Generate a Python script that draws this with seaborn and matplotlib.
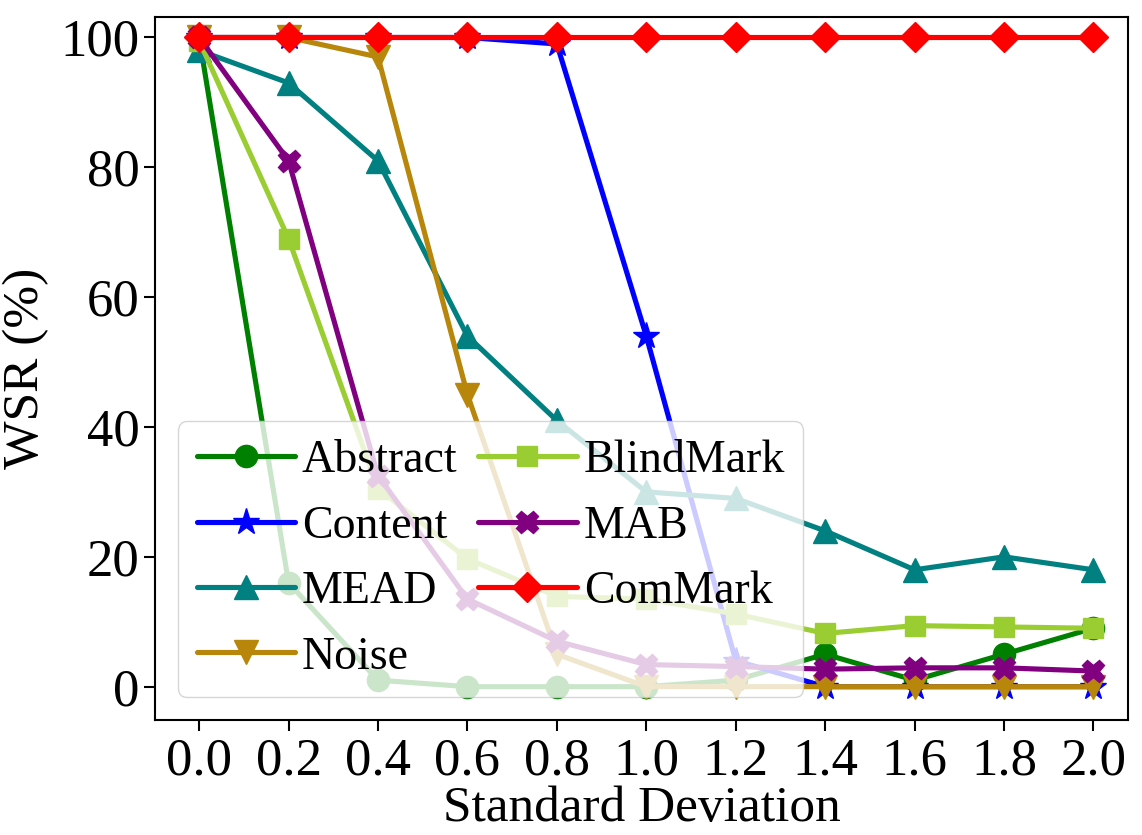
import matplotlib
matplotlib.use("Agg")
import matplotlib.pyplot as plt
import seaborn as sns
import pandas as pd

std_dev = [0.0, 0.2, 0.4, 0.6, 0.8, 1.0, 1.2, 1.4, 1.6, 1.8, 2.0]

abstract = [100, 16, 1, 0, 0, 0, 1, 5, 1, 5, 9]
content = [100, 100, 100, 100, 99, 54, 4, 0, 0, 0, 0]
mead = [98, 93, 81, 54, 41, 30, 29, 24, 18, 20, 18]
noise = [100, 100, 97, 45, 5, 0, 0, 0, 0, 0, 0]
blindmark = [99.5, 69, 30.5, 19.7, 13.9, 13.5, 11.2, 8.2, 9.4, 9.2, 9.0]
mab = [100, 81, 32.5, 13.5, 7, 3.4, 3.1, 2.7, 2.9, 2.9, 2.4]
commark = [100, 100, 100, 100, 100, 100, 100, 100, 100, 100, 100]

methods = ["Abstract", "Content", "MEAD", "Noise", "BlindMark", "MAB", "ComMark"]
series = [abstract, content, mead, noise, blindmark, mab, commark]
colors = ["green", "blue", "teal", "darkgoldenrod", "yellowgreen", "purple", "red"]
markers = ["o", "*", "^", "v", "s", "X", "D"]
msizes = [16, 20, 17, 17, 15, 16, 15]

x_ticks = [0.0, 0.2, 0.4, 0.6, 0.8, 1.0, 1.2, 1.4, 1.6, 1.8, 2.0]
y_ticks = [0, 20, 40, 60, 80, 100]

sns.set_style("ticks")
plt.rcParams["font.family"] = ["Liberation Serif", "DejaVu Serif"]
plt.rcParams["text.color"] = "black"
plt.rcParams["axes.labelcolor"] = "black"
plt.rcParams["xtick.color"] = "black"
plt.rcParams["ytick.color"] = "black"

fig, ax = plt.subplots(figsize=(11.42, 8.35), dpi=100)
fig.subplots_adjust(left=0.136, right=0.988, top=0.980, bottom=0.138)

for name, vals, c, m, ms in zip(methods, series, colors, markers, msizes):
    df = pd.DataFrame({"x": std_dev, "y": vals})
    sns.lineplot(data=df, x="x", y="y", ax=ax, color=c, marker=m,
                 markersize=ms, linewidth=3.7, markeredgecolor=c,
                 markeredgewidth=1, label=name)

ax.set_xticks(x_ticks)
ax.set_xticklabels([f"{v:.1f}" for v in x_ticks])
ax.set_yticks(y_ticks)
ax.set_xlim(-0.098, 2.078)
ax.set_ylim(-5.1, 103.2)
ax.tick_params(axis="both", labelsize=38, length=8, width=1.5, direction="out",
               colors="black")
ax.tick_params(axis="x", pad=5)
for s in ax.spines.values():
    s.set_linewidth(1.5)
    s.set_color("black")
ax.set_xlabel("Standard Deviation", fontsize=37, labelpad=0, color="black")
ax.set_ylabel("WSR (%)", fontsize=37, labelpad=8, color="black")

leg = ax.legend(loc="lower left", ncol=2, fontsize=33, handlelength=2.15,
                columnspacing=0.45, labelspacing=0.5, handletextpad=0.15,
                borderpad=0.4, borderaxespad=0.5, framealpha=0.8)
for t in leg.get_texts():
    t.set_color("black")

fig.savefig("out.png", dpi=100)
